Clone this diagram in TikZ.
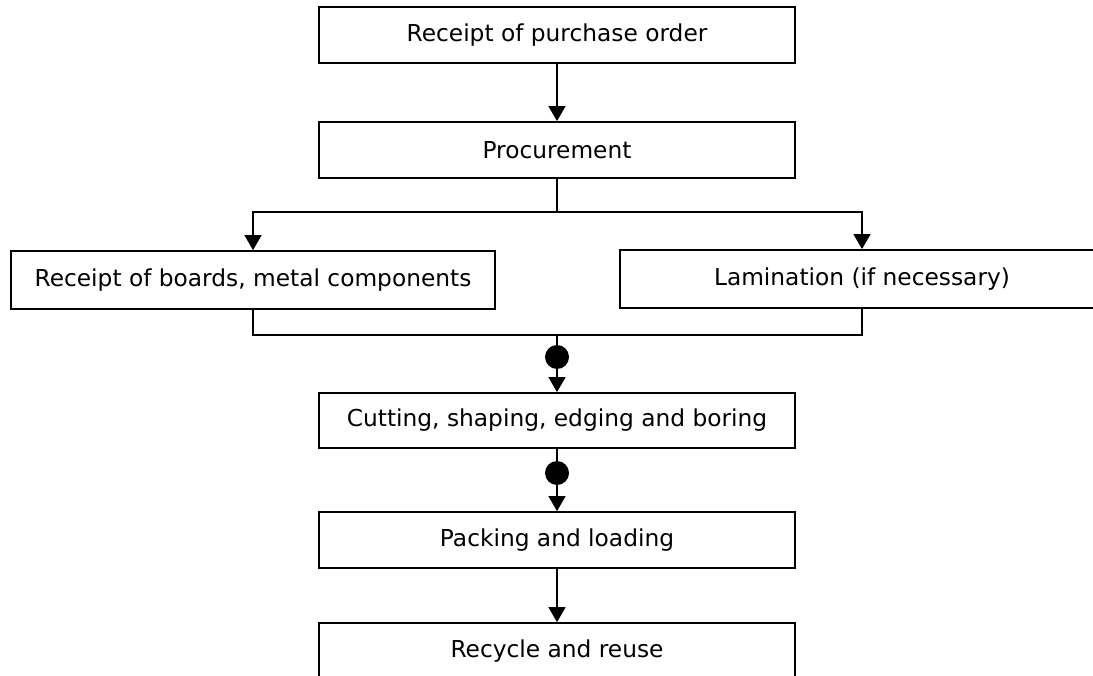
\documentclass[tikz,border=0pt]{standalone}
\usepackage{fontspec}
\setmainfont{DejaVu Sans}
\usetikzlibrary{positioning,arrows.meta}

\begin{document}
\begin{tikzpicture}[x=1pt, y=-1pt,
  box/.style={draw, line width=1.8pt, inner sep=0pt, minimum height=56pt,
    font=\fontsize{23.3}{27}\selectfont},
  mid/.style={box, minimum width=476pt},
  side/.style={box, minimum width=484pt, minimum height=58pt},
  dot/.style={circle, fill=black, inner sep=0pt, minimum size=24pt},
  flow/.style={line width=1.6pt, -{Triangle[width=17pt,length=15pt]}}]
\useasboundingbox (0,0) rectangle (1093,676);
% main column
\node[mid] (order) at (557,35) {Receipt of purchase order};
\node[mid] (proc) at (557,150) {Procurement};
\node[side] (boards) at (253,280) {Receipt of boards, metal components};
\node[side] (lam) at (862,279) {Lamination (if necessary)};
\node[mid, minimum height=55pt] (cut) at (557,420.5) {Cutting, shaping, edging and boring};
\node[mid] (pack) at (557,540) {Packing and loading};
\node[mid] (recycle) at (557,651) {Recycle and reuse};
% junctions
\coordinate (split) at (557,212);
\coordinate (merge) at (557,335);
\node[dot] (dot1) at (557,357) {};
\node[dot] (dot2) at (557,473) {};

\draw[flow] (order) -- (proc);
\draw[line width=1.6pt] (proc) -- (split);
\draw[flow] (split) -| (boards.north);
\draw[flow] (split) -| (lam.north);
\draw[line width=1.6pt] (boards.south) |- (merge) -| (lam.south);
\draw[line width=1.6pt] (merge) -- (dot1);
\draw[flow] (dot1) -- (cut);
\draw[line width=1.6pt] (cut) -- (dot2);
\draw[flow] (dot2) -- (pack);
\draw[flow] (pack) -- (recycle);
\end{tikzpicture}
\end{document}
